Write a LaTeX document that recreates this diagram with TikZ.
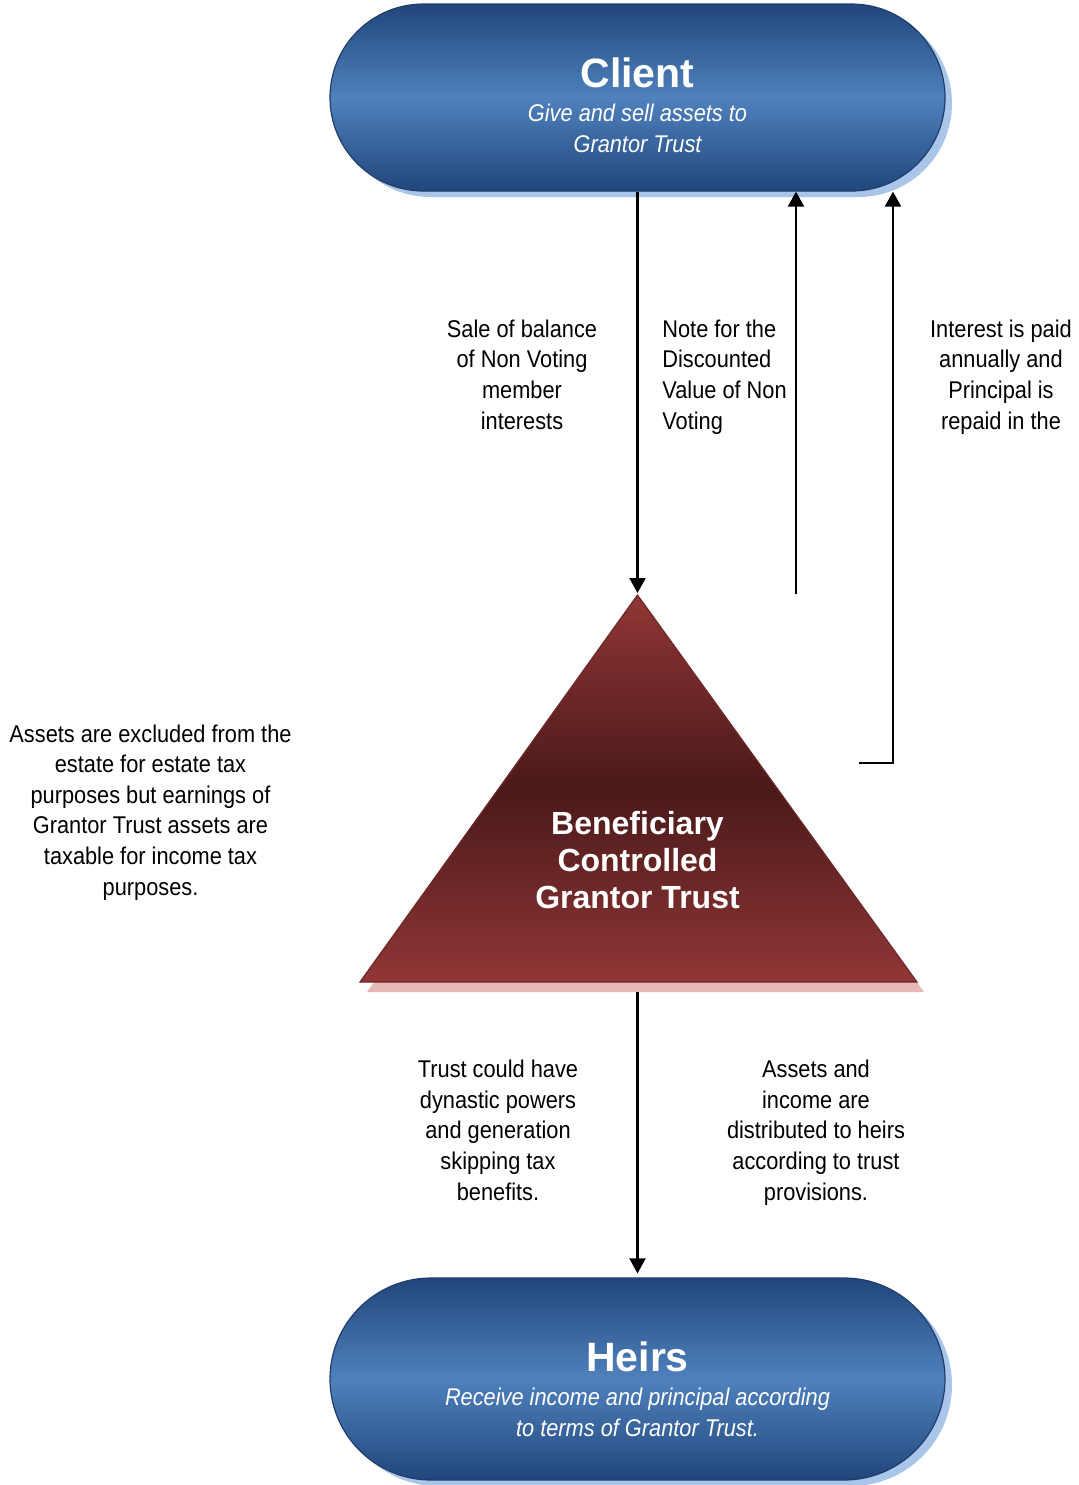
\documentclass[tikz,border=0pt]{standalone}
\usepackage{fontspec}
\setmainfont{Liberation Sans}
\newfontfamily\narrowfont{Liberation Sans}[FakeStretch=0.9]
\usetikzlibrary{arrows.meta,shapes.misc,shadows}

\definecolor{clientdark}{HTML}{21467B}
\definecolor{clientlight}{HTML}{4F81BD}
\definecolor{clientedge}{HTML}{1F3D6B}
\definecolor{clientshadow}{HTML}{A9C5EA}
\definecolor{trusttop}{HTML}{913636}
\definecolor{trustdark}{HTML}{4A1919}
\definecolor{trustedge}{HTML}{6E2828}
\definecolor{trustshadow}{HTML}{E6B9B8}

\begin{document}
\begin{tikzpicture}[
		x=0.5pt, y=-0.5pt,
		stadium/.style={rounded rectangle, draw=clientedge, line width=0.6pt, minimum width=307.5pt, inner sep=0pt,
			top color=clientdark, bottom color=clientdark, middle color=clientlight,
			drop shadow={shadow xshift=3.5pt, shadow yshift=-3pt, fill=clientshadow, opacity=1}},
		title/.style={text=white, font=\fontsize{20.5}{24}\selectfont\bfseries, inner sep=0pt},
		subtitle/.style={text=white, align=center, font=\narrowfont\fontsize{12.1}{15.5}\selectfont\itshape, inner sep=0pt},
		trustfill/.style={top color=trusttop, bottom color=trusttop, middle color=trustdark, draw=trustedge, line width=0.6pt},
		trusttext/.style={text=white, align=center, font=\fontsize{16}{18.5}\selectfont\bfseries, inner sep=0pt},
		remark/.style={align=center, font=\narrowfont\fontsize{12.1}{15.3}\selectfont, inner sep=0pt},
		arr/.style={-{Triangle[width=8pt,length=7.5pt]}, line width=1.1pt}
	]
  \useasboundingbox (0,0) rectangle (1079,1485);

  % client and heirs (base = last line)
  \node (client) [stadium, minimum height=93.5pt] at (637.5,97.5) {};
  \node (client_title) [title, anchor=base] at (637.5,87) {Client};
  \node (client_text) [subtitle, anchor=base] at (637.5,152) {Give and sell assets to\\Grantor Trust};

  \node (heirs) [stadium, minimum height=101pt] at (637.5,1379) {};
  \node (heirs_title) [title, anchor=base] at (637.5,1371) {Heirs};
  \node (heirs_text) [subtitle, anchor=base] at (637.5,1436) {Receive income and principal according\\to terms of Grantor Trust.};

  % trust triangle
  \coordinate (apex) at (637.5,595);
  \coordinate (base_l) at (360,982);
  \coordinate (base_r) at (917,982);
  \fill[trustshadow] ([shift={(7,10)}]apex) -- ([shift={(7,10)}]base_l) -- ([shift={(7,10)}]base_r) -- cycle;
  \shade[trustfill] (apex) -- (base_l) -- (base_r) -- cycle;
  \node (trust) [trusttext, anchor=base] at (637.5,908) {Beneficiary\\Controlled\\Grantor Trust};

  % arrows
  \coordinate (note_foot) at (796,594);
  \coordinate (int_foot) at (859,763);
  \coordinate (int_bend) at (893,763);
  \coordinate (trust_foot) at (637.5,992);
  \draw[arr, shorten >=1pt] (client.south) -- (apex);
  \draw[arr] (note_foot) -- (note_foot |- client.south);
  \draw[arr] (int_foot) -- (int_bend) -- (int_bend |- client.south);
  \draw[arr, shorten >=2pt] (trust_foot) -- (heirs.north);

  % remarks
  \node (sale) [remark, anchor=base] at (522,429) {Sale of balance\\of Non Voting\\member\\interests};
  \node (note) [remark, align=left, anchor=base west] at (662,429) {Note for the\\Discounted\\Value of Non\\Voting};
  \node (interest) [remark, anchor=base] at (1001,429) {Interest is paid\\annually and\\Principal is\\repaid in the};
  \node (excluded) [remark, anchor=base] at (150.5,895) {Assets are excluded from the\\estate for estate tax\\purposes but earnings of\\Grantor Trust assets are\\taxable for income tax\\purposes.};
  \node (dynastic) [remark, anchor=base] at (498,1200) {Trust could have\\dynastic powers\\and generation\\skipping tax\\benefits.};
  \node (distributed) [remark, anchor=base] at (816,1200) {Assets and\\income are\\distributed to heirs\\according to trust\\provisions.};
\end{tikzpicture}
\end{document}
